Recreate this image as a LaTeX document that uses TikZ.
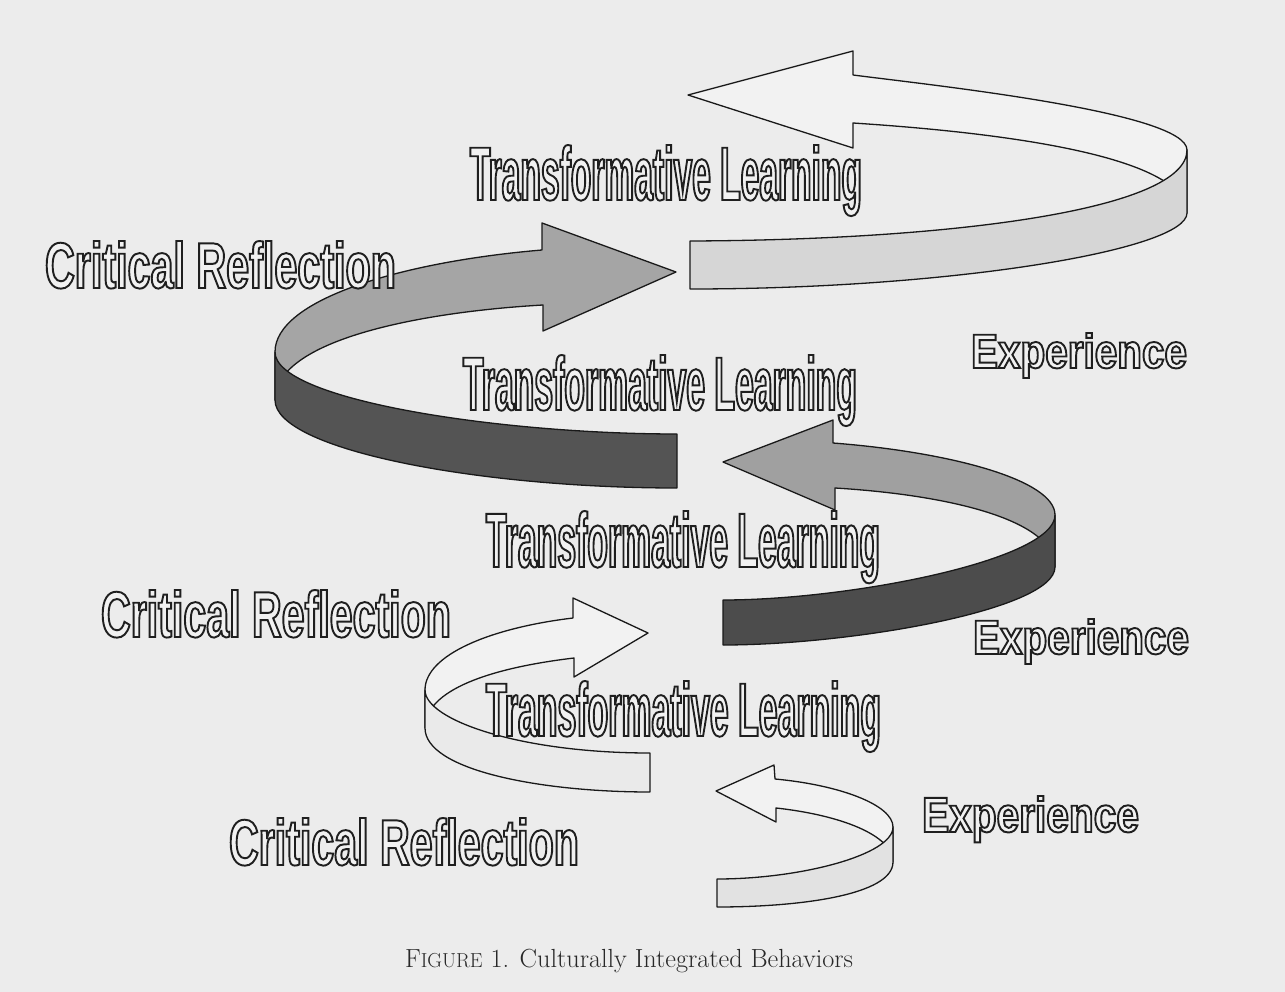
\documentclass[tikz,border=0pt]{standalone}
\usepackage{fontspec}
\usepackage{graphicx}
\newfontfamily\fTL{Liberation Sans}[FakeStretch=0.45]
\newfontfamily\fCR{Liberation Sans}[FakeStretch=0.64]
\newfontfamily\fEX{Liberation Sans}[FakeStretch=0.82]
\definecolor{bgc}{RGB}{236,236,236}
\definecolor{txtfill}{RGB}{241,241,241}
\definecolor{lightback}{RGB}{242,242,242}
\definecolor{frontA}{RGB}{214,214,214}
\definecolor{backB}{RGB}{165,165,165}
\definecolor{frontB}{RGB}{84,84,84}
\definecolor{backC}{RGB}{160,160,160}
\definecolor{frontC}{RGB}{76,76,76}
\definecolor{frontD}{RGB}{234,234,234}
\definecolor{frontE}{RGB}{226,226,226}
\definecolor{captxt}{RGB}{40,40,40}
% outlined text: fill with light colour, stroke dark
\newcommand\olab[5]{\resizebox{#1}{#2}{\fontsize{#4}{#4}#3\bfseries\color{txtfill}\special{pdf:literal direct 2 Tr 0.12 0.12 0.12 RG 1.9 w}#5\special{pdf:literal direct 0 Tr}}}
\begin{document}
\begin{tikzpicture}[x=1pt,y=-1pt,
  rib/.style={draw=black!90, line width=1.3pt, line join=round},
  lbl/.style={anchor=base west, inner sep=0pt, outer sep=0pt}]
\useasboundingbox (0,0) rectangle (1285,992);
\fill[bgc] (0,0) rectangle (1285,992);

% ---- Ribbon A (top, arrow to the left)
\draw[rib, fill=lightback] (688,95) -- (853,51) -- (853,75)
  .. controls (930,85) and (1187,112) .. (1187,150) -- (1187,213)
  .. controls (1187,150) and (960,130) .. (853,123) -- (853,148) -- cycle;
\draw[rib, fill=frontA] (1187,150) -- (1187,213)
  .. controls (1187,250) and (950,289) .. (690,289) -- (690,241)
  .. controls (950,240) and (1187,210) .. (1187,150) -- cycle;

% ---- Ribbon B (Critical Reflection, arrow to the right)
\draw[rib, fill=backB] (676,272) -- (542,223) -- (542,250)
  .. controls (400,262) and (275,300) .. (275,352) -- (275,400)
  .. controls (275,340) and (420,312) .. (543,305) -- (543,331) -- cycle;
\draw[rib, fill=frontB] (275,352) -- (275,400)
  .. controls (275,450) and (480,488) .. (677,488) -- (677,434)
  .. controls (500,434) and (275,400) .. (275,352) -- cycle;

% ---- Ribbon C (Experience, arrow to the left)
\draw[rib, fill=backC] (723,462) -- (833,420) -- (833,443)
  .. controls (950,452) and (1055,480) .. (1055,515) -- (1055,567)
  .. controls (1055,520) and (950,495) .. (835,488) -- (835,510) -- cycle;
\draw[rib, fill=frontC] (1055,515) -- (1055,567)
  .. controls (1055,610) and (850,645) .. (723,645) -- (723,600)
  .. controls (850,600) and (1055,560) .. (1055,515) -- cycle;

% ---- Ribbon D (lower left, arrow to the right)
\draw[rib, fill=lightback] (648,633) -- (573,598) -- (573,618)
  .. controls (490,628) and (425,655) .. (425,690) -- (425,728)
  .. controls (425,690) and (490,668) .. (574,658) -- (574,677) -- cycle;
\draw[rib, fill=frontD] (425,690) -- (425,728)
  .. controls (425,770) and (540,792) .. (650,792) -- (650,753)
  .. controls (520,753) and (425,720) .. (425,690) -- cycle;

% ---- Ribbon E (bottom right, arrow to the left)
\draw[rib, fill=lightback] (716,791) -- (774,765) -- (775,779)
  .. controls (840,785) and (893,805) .. (893,827) -- (893,862)
  .. controls (893,835) and (840,815) .. (776,808) -- (776,822) -- cycle;
\draw[rib, fill=frontE] (893,827) -- (893,862)
  .. controls (893,895) and (800,907) .. (717,907) -- (717,879)
  .. controls (800,879) and (893,855) .. (893,827) -- cycle;

% ---- Labels
\node[lbl] (tl1) at (470,200) {\olab{392pt}{55pt}{\fTL}{75.5pt}{Transformative Learning}};
\node[lbl] (cr1) at (45,288) {\olab{351pt}{47pt}{\fCR}{64pt}{Critical Reflection}};
\node[lbl] (ex1) at (971,368) {\olab{216pt}{35pt}{\fEX}{49pt}{Experience}};
\node[lbl] (tl2) at (463,410) {\olab{394pt}{55pt}{\fTL}{75.5pt}{Transformative Learning}};
\node[lbl] (tl3) at (486,567) {\olab{394pt}{56pt}{\fTL}{75.5pt}{Transformative Learning}};
\node[lbl] (cr2) at (101,637) {\olab{350pt}{47pt}{\fCR}{64pt}{Critical Reflection}};
\node[lbl] (ex2) at (973,654) {\olab{216pt}{35pt}{\fEX}{49pt}{Experience}};
\node[lbl] (tl4) at (486,736) {\olab{395pt}{55pt}{\fTL}{75.5pt}{Transformative Learning}};
\node[lbl] (ex3) at (922,832) {\olab{217pt}{36pt}{\fEX}{49pt}{Experience}};
\node[lbl] (cr3) at (229,865) {\olab{350pt}{47pt}{\fCR}{64pt}{Critical Reflection}};

% ---- Caption
\node[lbl, text=captxt] (cap) at (405,967) {\resizebox{448pt}{!}{\fontsize{22pt}{24pt}\selectfont F{\fontsize{17pt}{20pt}\selectfont IGURE} 1. Culturally Integrated Behaviors}};
\end{tikzpicture}
\end{document}
